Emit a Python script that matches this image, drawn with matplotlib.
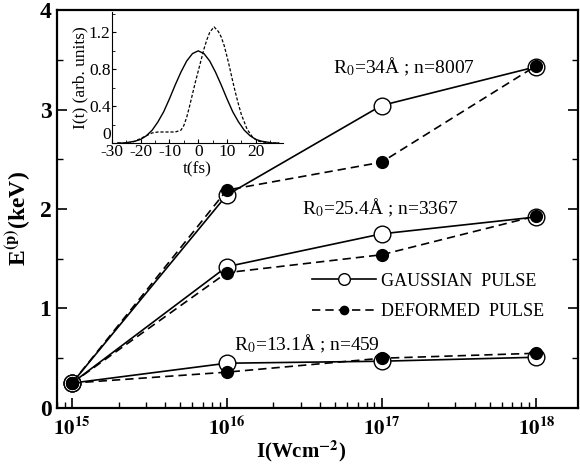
import matplotlib
matplotlib.use("Agg")
import matplotlib.pyplot as plt
from matplotlib.ticker import MultipleLocator, LogLocator, NullFormatter

plt.rcParams["font.family"] = ["Liberation Serif", "DejaVu Serif"]
plt.rcParams["mathtext.fontset"] = "stix"
plt.rcParams["axes.unicode_minus"] = False

# main panel: proton energy vs laser intensity
intensity = [1e15, 1e16, 1e17, 1e18]
intensity_labels = [r"$\mathbf{10^{15}}$", r"$\mathbf{10^{16}}$",
                    r"$\mathbf{10^{17}}$", r"$\mathbf{10^{18}}$"]

gauss_34 = [0.25, 2.14, 3.04, 3.43]
deform_34 = [0.25, 2.19, 2.47, 3.44]
gauss_25 = [0.25, 1.42, 1.75, 1.92]
deform_25 = [0.25, 1.36, 1.54, 1.93]
gauss_13 = [0.25, 0.45, 0.47, 0.51]
deform_13 = [0.25, 0.36, 0.50, 0.55]

cluster_labels = [r"R$_0$=34Å ; n=8007", r"R$_0$=25.4Å ; n=3367", r"R$_0$=13.1Å ; n=459"]
label_pos = [(1.40e17, 3.43), (0.98e17, 2.01), (3.3e16, 0.65)]

# inset: pulse shapes
t_gauss = [-28, -26, -24, -22, -20, -18, -16, -14, -12, -10, -8, -6, -4, -2, 0,
           2, 4, 6, 8, 10, 12, 14, 16, 18, 20, 22, 24, 26, 28]
i_gauss = [0.0, 0.0, 0.01, 0.02, 0.04, 0.08, 0.14, 0.23, 0.34, 0.48, 0.63, 0.77, 0.89, 0.97, 1.0,
           0.97, 0.89, 0.77, 0.63, 0.48, 0.34, 0.23, 0.14, 0.08, 0.04, 0.02, 0.01, 0.0, 0.0]
t_deform = [-28, -26, -24, -22, -20, -18, -16, -14, -12, -10, -8, -6, -5, -4, -3, -2, -1, 0,
            1, 2, 3, 4, 5.5, 7, 8, 9, 10, 11, 12, 13, 14, 15, 17, 19, 21, 23, 25, 28]
i_deform = [0.0, 0.0, 0.0, 0.02, 0.05, 0.08, 0.11, 0.12, 0.12, 0.12, 0.12, 0.14, 0.19, 0.28, 0.40, 0.53, 0.66, 0.78,
            0.90, 1.02, 1.12, 1.20, 1.26, 1.21, 1.15, 1.06, 0.94, 0.81, 0.67, 0.54, 0.42, 0.31, 0.15, 0.06, 0.02, 0.01, 0.0, 0.0]
inset_xticks = [-30, -20, -10, 0, 10, 20]

fig = plt.figure(figsize=(5.8, 4.66), dpi=100)
ax = fig.add_axes([0.0983, 0.1245, 0.8983, 0.854])

dash = (0, (5, 3))
gauss_series = [gauss_34, gauss_25, gauss_13]
deform_series = [deform_34, deform_25, deform_13]
for k, (g, d) in enumerate(zip(gauss_series, deform_series)):
    ax.plot(intensity, g, "-", color="black", lw=1.2, marker="o", ms=12,
            mfc="white", mec="black", mew=1.0, zorder=3,
            label="GAUSSIAN  PULSE" if k == 0 else None)
    ax.plot(intensity, d, linestyle=dash, color="black", lw=1.2, marker="o", ms=8.5,
            mfc="black", mec="black", zorder=4,
            label="DEFORMED  PULSE" if k == 0 else None)

for txt, (x, y) in zip(cluster_labels, label_pos):
    ax.text(x, y, txt, fontsize=14, ha="center", va="center")

ax.set_xscale("log")
ax.set_xlim(10**14.903, 10**18.27)
ax.set_ylim(0, 4)
ax.set_xticks(intensity)
ax.set_xticklabels(intensity_labels, fontsize=15)
ax.xaxis.set_minor_locator(LogLocator(base=10, subs=range(2, 10)))
ax.xaxis.set_minor_formatter(NullFormatter())
ax.yaxis.set_minor_locator(MultipleLocator(0.5))
ax.set_yticks([0, 1, 2, 3, 4])
ax.set_yticklabels(["0", "1", "2", "3", "4"], fontsize=17, fontweight="bold")
ax.tick_params(which="both", direction="in", top=False, right=True)
ax.tick_params(which="major", length=7, width=1.2)
ax.tick_params(which="minor", length=4, width=1.0)
ax.tick_params(axis="x", pad=7)
ax.tick_params(axis="y", pad=4)
for s in ax.spines.values():
    s.set_linewidth(1.6)

ax.set_xlabel(r"I(Wcm$^{\mathbf{-2}}$)", fontsize=15, fontweight="bold")
ax.xaxis.set_label_coords(0.468, -0.078)
ax.set_ylabel(r"E$^{\mathbf{(p)}}$(keV)", fontsize=17, fontweight="bold")
ax.yaxis.set_label_coords(-0.046, 0.475)

ax.legend(loc="upper left", bbox_to_anchor=(0.49, 0.34), frameon=False,
          fontsize=13, handlelength=3.5, handletextpad=0.3, labelspacing=0.75,
          borderpad=0, borderaxespad=0, markerscale=0.7)

# inset
ins = fig.add_axes([0.193, 0.693, 0.295, 0.281])
ins.plot(t_gauss, i_gauss, "-", color="black", lw=1.0)
ins.plot(t_deform, i_deform, linestyle=(0, (2.5, 1.5)), color="black", lw=0.9)
ins.set_xlim(-30, 29.5)
ins.set_ylim(0, 1.42)
ins.spines["top"].set_visible(False)
ins.spines["right"].set_visible(False)
ins.set_xticks(inset_xticks)
ins.xaxis.set_minor_locator(MultipleLocator(5))
ins.set_yticks([0, 0.4, 0.8, 1.2])
ins.set_yticklabels(["0", "0.4", "0.8", "1.2"])
ins.get_yticklabels()[0].set_va("bottom")
ins.yaxis.set_minor_locator(MultipleLocator(0.2))
ins.tick_params(which="both", direction="in", labelsize=12.5, pad=1)
ins.tick_params(which="major", length=3)
ins.tick_params(which="minor", length=2)
ins.set_xlabel("t(fs)", fontsize=12.5, labelpad=1)
ins.set_ylabel("I(t) (arb. units)", fontsize=12.5, labelpad=0)
ins.patch.set_alpha(0)

fig.savefig("out.png", dpi=100)
